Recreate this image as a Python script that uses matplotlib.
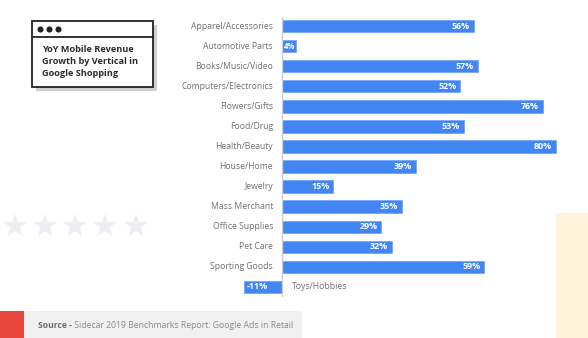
import matplotlib
matplotlib.use("Agg")
import matplotlib.pyplot as plt
from matplotlib.patches import Rectangle

plt.rcParams['font.family'] = ['Open Sans', 'DejaVu Sans']

categories = ["Apparel/Accessories", "Automotive Parts", "Books/Music/Video",
              "Computers/Electronics", "Flowers/Gifts", "Food/Drug",
              "Health/Beauty", "House/Home", "Jewelry", "Mass Merchant",
              "Office Supplies", "Pet Care", "Sporting Goods", "Toys/Hobbies"]
values = [56, 4, 57, 52, 76, 53, 80, 39, 15, 35, 29, 32, 59, -11]
title_lines = ["YoY Mobile Revenue", "Growth by Vertical in", "Google Shopping"]
source_bold = "Source -"
source_text = " Sidecar 2019 Benchmarks Report: Google Ads in Retail"

W, H = 588, 338
fig = plt.figure(figsize=(W / 100, H / 100), dpi=100)
fig.patch.set_facecolor("white")

# background / decoration axes in pixel coordinates
bg = fig.add_axes([0, 0, 1, 1], zorder=0)
bg.set_xlim(0, W)
bg.set_ylim(H, 0)
bg.axis("off")

# cream block at right
bg.add_patch(Rectangle((556, 213), 40, 130, facecolor="#fdf2da", edgecolor="none"))
# stars
for sx in [15, 45, 75, 105, 136]:
    bg.plot(sx, 226, marker="*", markersize=18, color="#eceef4", markeredgewidth=0)

# title box with shadow
bg.add_patch(Rectangle((36, 25), 121, 66, facecolor="#cfcfd2", edgecolor="none"))
bg.add_patch(Rectangle((32, 21), 121, 66, facecolor="white", edgecolor="#222222", linewidth=1.3))
bg.plot([32, 153], [37, 37], color="#222222", linewidth=1.3)
for dx in [40, 49, 58]:
    bg.plot(dx, 29, marker="o", markersize=4.4, color="#222222", markeredgewidth=0)
for i, line in enumerate(title_lines):
    bg.text(42, 50 + i * 11.5, line, fontsize=6.6, fontweight="bold", color="#2b2b2b",
            ha="left", va="center")

# source bar
bg.add_patch(Rectangle((0, 311), 24, 30, facecolor="#e8463c", edgecolor="none"))
bg.add_patch(Rectangle((24, 311), 278, 30, facecolor="#f0f0f0", edgecolor="none"))
t1 = bg.text(38, 325, source_bold, fontsize=6.2, fontweight="bold", color="#6e6e6e",
             ha="left", va="center")

# chart axes
x0px, sc = 282.0, 3.43
xmin, xmax = -20, 88
left_px = x0px + xmin * sc
width_px = (xmax - xmin) * sc
top_px, bot_px = 16.0, 297.0
ax = fig.add_axes([left_px / W, (H - bot_px) / H, width_px / W, (bot_px - top_px) / H], zorder=1)
ax.patch.set_alpha(0)
ax.set_xlim(xmin, xmax)
ax.set_ylim(len(categories) - 0.5, -0.5)
ax.axis("off")

ypos = list(range(len(categories)))
ax.barh(ypos, values, height=0.62, color="#4286f4", edgecolor="#6fa0f6", linewidth=0.5, zorder=2)
ax.axvline(0, ymin=0.005, ymax=0.995, color="#c9cedb", linewidth=1.0, zorder=3)

for y, (c, v) in enumerate(zip(categories, values)):
    if v >= 0:
        ax.text(-2.6, y, c, ha="right", va="center", fontsize=6.2, color="#6f6f72")
        if v >= 10:
            ax.text(v - 1.2, y, f"{v}%", ha="right", va="center", fontsize=6.4,
                    fontweight="bold", color="white", zorder=4)
        else:
            ax.text(0.5, y, f"{v}%", ha="left", va="center", fontsize=5.6,
                    fontweight="bold", color="white", zorder=4)
    else:
        ax.text(2.9, y, c, ha="left", va="center", fontsize=6.2, color="#6f6f72")
        ax.text(v + 0.6, y, f"{v}%", ha="left", va="center", fontsize=6.4,
                fontweight="bold", color="white", zorder=4)

# place second part of source text after the bold part
fig.canvas.draw()
bb = t1.get_window_extent()
x_end = bg.transData.inverted().transform((bb.x1, bb.y0))[0]
bg.text(x_end, 325, source_text, fontsize=6.2, color="#8a8a8e", ha="left", va="center")

fig.savefig("out.png", dpi=100, facecolor="white")
